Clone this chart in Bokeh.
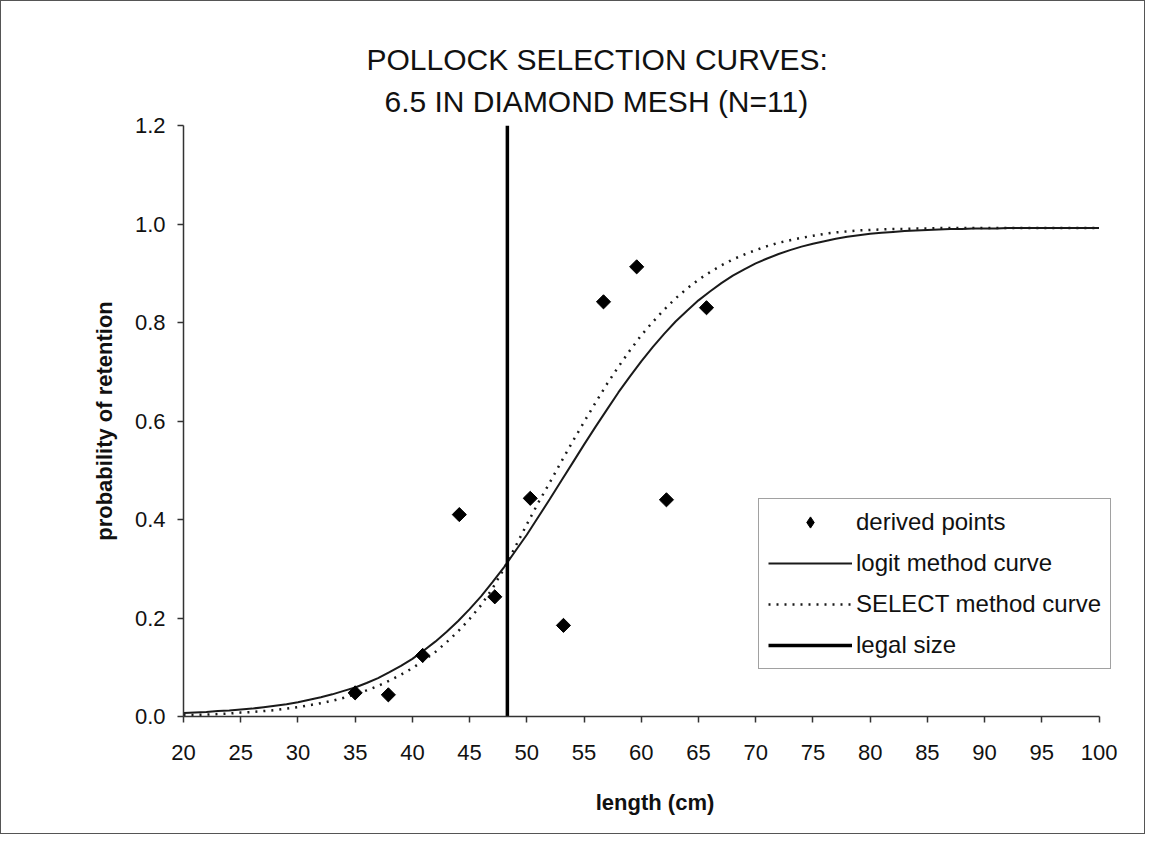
from bokeh.plotting import figure
from bokeh.models import (Range1d, FixedTicker, PrintfTickFormatter, Title,
                          Legend, LegendItem, ColumnDataSource)
from bokeh.embed import file_html
from bokeh.resources import INLINE

# ---- data ----
lengths = list(range(20, 101))
logit_curve = [
    0.007, 0.008, 0.009, 0.011, 0.012, 0.014, 0.016, 0.019, 0.022, 0.025,
    0.029, 0.034, 0.039, 0.045, 0.052, 0.059, 0.068, 0.078, 0.090, 0.103,
    0.117, 0.134, 0.152, 0.172, 0.194, 0.218, 0.244, 0.273, 0.303, 0.336,
    0.369, 0.405, 0.441, 0.478, 0.515, 0.552, 0.588, 0.623, 0.658, 0.690,
    0.721, 0.750, 0.777, 0.802, 0.824, 0.845, 0.863, 0.880, 0.895, 0.908,
    0.920, 0.930, 0.939, 0.947, 0.954, 0.960, 0.965, 0.970, 0.974, 0.977,
    0.980, 0.982, 0.984, 0.986, 0.987, 0.988, 0.989, 0.990, 0.990, 0.991,
    0.991, 0.991, 0.992, 0.992, 0.992, 0.992, 0.992, 0.992, 0.992, 0.992, 0.992,
]
select_curve = [
    0.003, 0.003, 0.004, 0.005, 0.006, 0.008, 0.009, 0.011, 0.013, 0.016,
    0.019, 0.023, 0.027, 0.032, 0.038, 0.045, 0.053, 0.062, 0.073, 0.085,
    0.098, 0.114, 0.131, 0.151, 0.173, 0.198, 0.226, 0.260, 0.300, 0.345,
    0.390, 0.434, 0.475, 0.517, 0.558, 0.598, 0.637, 0.675, 0.710, 0.743,
    0.774, 0.801, 0.826, 0.849, 0.869, 0.887, 0.902, 0.916, 0.928, 0.938,
    0.947, 0.955, 0.962, 0.967, 0.972, 0.976, 0.980, 0.983, 0.985, 0.987,
    0.988, 0.989, 0.990, 0.990, 0.991, 0.991, 0.992, 0.992, 0.992, 0.992,
    0.992, 0.992, 0.992, 0.992, 0.992, 0.992, 0.992, 0.992, 0.992, 0.992, 0.992,
]
point_len = [35.0, 37.9, 40.9, 44.1, 47.2, 50.3, 53.2, 56.7, 59.6, 62.2, 65.7]
point_prob = [0.048, 0.044, 0.124, 0.410, 0.243, 0.443, 0.185, 0.842, 0.913, 0.440, 0.830]
legal_size = 48.3
legal_y = [0.0, 1.2]
x_ticks = list(range(20, 101, 5))
y_ticks = [0.0, 0.2, 0.4, 0.6, 0.8, 1.0, 1.2]
title_lines = ["POLLOCK SELECTION CURVES:", "6.5 IN DIAMOND MESH (N=11)"]
legend_labels = ["derived points", "logit method curve", "SELECT method curve", "legal size"]

FONT = "Liberation Sans"
INK = "#111111"

# frame reaches a little past 100 cm so the legend box (which overhangs the
# axis end in the reference) is not clipped; the axis line itself stops at 100
p = figure(width=1145, height=834, output_backend="svg", toolbar_location=None,
           x_range=Range1d(20, 102.4), y_range=Range1d(0, 1.2),
           min_border_left=182, min_border_right=20,
           min_border_top=124, min_border_bottom=119)
p.outline_line_color = None
p.xgrid.visible = False
p.ygrid.visible = False
p.background_fill_color = "white"
p.border_fill_color = "white"
p.styles = {"border": "1.5px solid #555555"}

for ax in (p.xaxis[0], p.yaxis[0]):
    ax.axis_line_color = "#333333"
    ax.axis_line_width = 1.5
    ax.major_tick_line_color = "#333333"
    ax.major_tick_line_width = 1.5
    ax.major_tick_in = 0
    ax.major_tick_out = 6
    ax.minor_tick_line_color = None
    ax.major_label_text_font = FONT
    ax.major_label_text_font_size = "22px"
    ax.major_label_text_color = INK
    ax.axis_label_text_font = FONT
    ax.axis_label_text_font_style = "bold"
    ax.axis_label_text_font_size = "22px"
    ax.axis_label_text_color = INK

p.xaxis.bounds = (20, 100)
p.xaxis.ticker = FixedTicker(ticks=x_ticks)
p.xaxis.major_label_standoff = 22
p.xaxis.axis_label = "length (cm)"
p.xaxis.axis_label_standoff = 27
p.yaxis.ticker = FixedTicker(ticks=y_ticks)
p.yaxis.formatter = PrintfTickFormatter(format="%.1f")
p.yaxis.major_label_standoff = 12
p.yaxis.axis_label = "probability of retention"
p.yaxis.axis_label_standoff = 15

r_logit = p.line(lengths, logit_curve, line_color="#1a1a1a", line_width=2)
r_select = p.line(lengths, select_curve, line_color="#1a1a1a", line_width=2.5,
                  line_dash="2 6")
r_legal = p.line([legal_size, legal_size], legal_y, line_color="#000000", line_width=3.5)

pts = ColumnDataSource(data=dict(x=point_len, y=point_prob))
# small diamonds: used as the legend key (hidden under the larger marks below)
r_pts_key = p.scatter("x", "y", source=pts, marker="diamond", size=12,
                      fill_color="#000000", line_color="#000000")
p.scatter("x", "y", source=pts, marker="square", angle=0.7854, size=10,
          fill_color="#000000", line_color="#000000")

# two-line title: the later-added title sits higher
p.add_layout(Title(text=title_lines[1], align="left", offset=201, text_font=FONT,
                   text_font_size="30px", text_font_style="normal",
                   text_color=INK, standoff=15), "above")
p.add_layout(Title(text=title_lines[0], align="left", offset=183, text_font=FONT,
                   text_font_size="30px", text_font_style="normal",
                   text_color=INK, standoff=0), "above")

legend = Legend(items=[
    LegendItem(label=legend_labels[0], renderers=[r_pts_key]),
    LegendItem(label=legend_labels[1], renderers=[r_logit]),
    LegendItem(label=legend_labels[2], renderers=[r_select]),
    LegendItem(label=legend_labels[3], renderers=[r_legal]),
], location=(575, 47))
legend.label_text_font = FONT
legend.label_text_font_size = "24px"
legend.label_text_color = INK
legend.glyph_width = 84
legend.glyph_height = 28
legend.label_height = 28
legend.spacing = 13
legend.padding = 9
legend.margin = 0
legend.label_standoff = 4
legend.border_line_color = "#444444"
legend.border_line_width = 1.5
legend.background_fill_color = "white"
legend.background_fill_alpha = 1.0
p.add_layout(legend)

open("out.html", "w").write(file_html(p, INLINE))
